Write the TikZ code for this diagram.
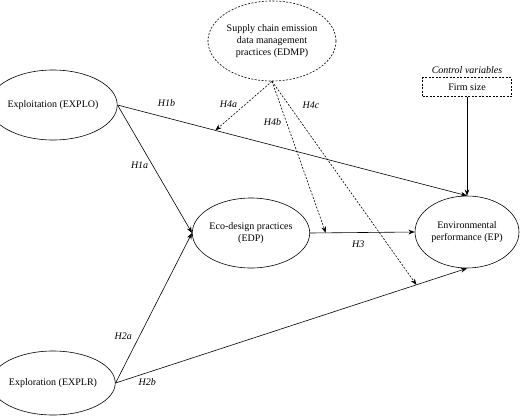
\documentclass[tikz,border=0pt]{standalone}
\usepackage{fontspec}
\setmainfont{Liberation Serif}
\usetikzlibrary{arrows.meta,positioning,shapes.geometric}
\tikzstyle{Arrow}=[-{Stealth[scale=1.1]}]

\begin{document}
\begin{tikzpicture}[
  x=1pt, y=-1pt,
  line width=0.6pt,
  Construct/.style={draw, ellipse, inner sep=0, minimum width=104pt, minimum height=70pt, align=center},
  Moderator/.style={Construct, dash pattern=on 2pt off 1.5pt},
  Control/.style={draw, dash pattern=on 2pt off 1.5pt, minimum width=89pt, minimum height=19pt, inner sep=0},
  Dashed/.style={Arrow, dash pattern=on 2pt off 1.5pt},
  Hyp/.style={font=\itshape, inner sep=1pt}
]
\useasboundingbox (0,0) rectangle (520,416);

\node[Construct] (explo) at (53,105) {Exploitation (EXPLO)};
\node[Construct, minimum height=64pt] (explr) at (53,383) {Exploration (EXPLR)};
\node[Construct] (edp) at (251,233) {Eco-design practices\\(EDP)};
\node[Construct, minimum height=72pt] (ep) at (467,232) {Environmental\\performance (EP)};
\node[Moderator, minimum width=116pt, minimum height=80pt] (edmp) at (272,41) {Supply chain emission\\data management\\practices (EDMP)};
\node[Control] (firm) at (467,87) {Firm size};
\node[above=0pt of firm, font=\itshape] (ctrl) {Control variables};

\draw[Arrow] (explo.east) -- node[Hyp,pos=0.14,above=10pt] {H1b} coordinate[pos=0.28] (h4a) (ep.north);
\draw[Arrow] (explo.east) -- node[Hyp,pos=0.47,left=3pt] {H1a} (edp.west);
\draw[Arrow] (explr.east) -- node[Hyp,pos=0.31,left=6pt] {H2a} (edp.west);
\draw[Arrow] (explr.east) -- node[Hyp,pos=0.09,below=5pt] {H2b} coordinate[pos=0.856] (h4c) (ep.south);
\draw[Arrow] (edp.east) -- node[Hyp,pos=0.46,below=7pt] {H3} coordinate[pos=0.15] (h4b) (ep.west);
\draw[Arrow] (firm.south) -- (ep.north);

\draw[Dashed] (edmp.south) -- node[Hyp,pos=0.47,left=7pt] {H4a} (h4a);
\draw[Dashed] (edmp.south) -- node[Hyp,pos=0.27,left=4pt] {H4b} (h4b);
\draw[Dashed] (edmp.south) -- node[Hyp,pos=0.12,right=12pt] {H4c} (h4c);

\end{tikzpicture}
\end{document}
